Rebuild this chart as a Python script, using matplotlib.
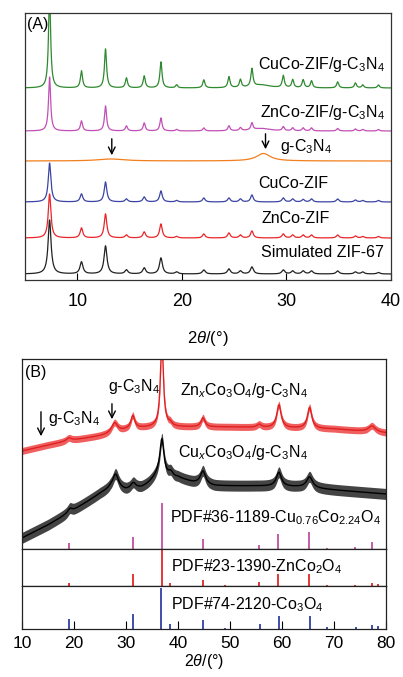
import numpy as np
import matplotlib
matplotlib.use("Agg")
import matplotlib.pyplot as plt

plt.rcParams['font.family'] = ['Liberation Sans', 'DejaVu Sans']
plt.rcParams['mathtext.fontset'] = 'custom'
plt.rcParams['mathtext.rm'] = 'Liberation Sans'
plt.rcParams['mathtext.it'] = 'Liberation Sans:italic'
plt.rcParams['mathtext.bf'] = 'Liberation Sans:bold'

# ---------------- Panel A data (ZIF patterns) ----------------
zif_pos = [7.35, 10.4, 12.7, 14.7, 16.4, 18.0, 19.5, 22.1, 24.5, 25.6, 26.7,
           29.7, 30.6, 31.6, 32.4, 34.9, 36.6, 37.3, 38.8]
sim_h   = [54, 12, 28, 4, 6, 16, 2, 4, 5, 3, 7, 4, 3, 3, 3, 3, 2, 2, 1.5]
znco_h  = [44, 10, 24, 3, 6, 14, 1.5, 4, 5, 3, 7, 4, 3, 3, 3, 3, 2, 1.5, 1.5]
cuco_h  = [39, 8, 20, 3, 5, 11, 1.5, 4, 4, 3, 7, 4, 3, 2.5, 3, 3, 2, 1.5, 1.5]
znco_g_h = [54, 10, 25, 5, 8, 13, 1.5, 3, 5, 3, 7, 4, 3, 3, 3, 2.5, 2, 1.5, 1.5]
cuco_g_h = [95, 17, 39, 10, 12, 26, 3, 8, 11, 8, 18, 12, 8, 8, 7, 6, 5, 3, 3]
gcn_pos = [13.2, 27.8]
gcn_h   = [2, 7.5]
gcn_w   = [1.5, 0.8]

a_offsets = {'sim': 6, 'znco': 42, 'cuco': 78, 'gcn': 119, 'znco_g': 149, 'cuco_g': 192}

# ---------------- Panel B data ----------------
# red: ZnxCo3O4/g-C3N4
zn_base_x = [10, 15, 20, 25, 27, 30, 33, 36, 40, 50, 60, 70, 80]
zn_base_y = [98, 104, 109, 113, 115, 119, 121, 122, 122, 122, 121, 120, 116]
zn_pk_pos = [19.0, 27.8, 31.3, 36.9, 38.5, 44.8, 55.6, 59.4, 65.3, 77.3]
zn_pk_h   = [3, 10, 13, 85, 3, 9, 3, 23, 21, 6]
zn_pk_w   = [0.6, 0.7, 0.45, 0.35, 0.4, 0.45, 0.5, 0.5, 0.5, 0.8]
# black: CuxCo3O4/g-C3N4
cu_base_x = [10, 15, 20, 25, 27, 30, 33, 35, 40, 43, 47, 55, 63, 70, 75, 80]
cu_base_y = [11, 24, 39, 55, 60, 58, 60, 64, 70, 66, 63, 63, 62, 59, 57, 55]
cu_pk_pos = [19.2, 28.0, 31.4, 36.5, 36.9, 38.6, 44.8, 59.4, 65.3]
cu_pk_h   = [4, 15, 6, 10, 34, 5, 13, 14, 11]
cu_pk_w   = [0.5, 0.7, 0.6, 1.5, 0.45, 0.5, 0.6, 0.6, 0.7]

# reference sticks
cu_ref_pos = [19.0, 31.3, 36.9, 44.8, 55.6, 59.3, 65.2, 68.7, 74.1, 77.4]
cu_ref_h   = [6, 12, 46, 10, 4, 15, 17, 1, 2, 7]
zn_ref_pos = [19.0, 31.3, 36.9, 38.5, 44.8, 49.1, 55.6, 59.3, 65.2, 68.7, 74.1, 77.4, 78.5]
zn_ref_h   = [3, 12, 36, 3, 6, 1, 4, 12, 12, 1, 1, 3, 2]
co_ref_pos = [19.0, 31.3, 36.8, 38.5, 44.8, 49.1, 55.7, 59.4, 65.3, 68.7, 74.2, 77.4, 78.5]
co_ref_h   = [10, 15, 41, 5, 9, 1, 5, 13, 13, 2, 2, 4, 3]


def lor(x, pos, h, w):
    y = np.zeros_like(x)
    if np.isscalar(w):
        w = [w] * len(pos)
    for p, hh, ww in zip(pos, h, w):
        y += hh / (1 + ((x - p) / ww) ** 2)
    return y


W = 403 / 100
H = 677 / 100
fig = plt.figure(figsize=(W, H), dpi=100)

def fx(px):
    return px / 403

def fy(py):
    return 1 - py / 677

fs = 11.5

# ---------------- Panel A ----------------
axA = fig.add_axes([fx(25), fy(280), fx(391) - fx(25), fy(13) - fy(280)])
xa = np.linspace(5, 40, 4000)
cols = {'sim': '#222222', 'znco': '#e8262a', 'cuco': '#3b44a3',
        'gcn': '#f27e1c', 'znco_g': '#c24fb5', 'cuco_g': '#2f8a2f'}
axA.plot(xa, a_offsets['sim'] + lor(xa, zif_pos, sim_h, 0.17), color=cols['sim'], lw=0.9)
axA.plot(xa, a_offsets['znco'] + lor(xa, zif_pos, znco_h, 0.15), color=cols['znco'], lw=0.9)
axA.plot(xa, a_offsets['cuco'] + lor(xa, zif_pos, cuco_h, 0.15), color=cols['cuco'], lw=0.9)
axA.plot(xa, a_offsets['gcn'] + lor(xa, gcn_pos, gcn_h, gcn_w), color=cols['gcn'], lw=0.9)
axA.plot(xa, a_offsets['znco_g'] + lor(xa, zif_pos, znco_g_h, 0.12) + lor(xa, [27.6], [2.5], [1.0]),
         color=cols['znco_g'], lw=0.9)
axA.plot(xa, a_offsets['cuco_g'] + lor(xa, zif_pos, cuco_g_h, 0.12) + lor(xa, [27.6], [3.0], [1.0]),
         color=cols['cuco_g'], lw=0.9)
axA.set_xlim(5, 40)
axA.set_ylim(0, 267)
axA.set_yticks([])
axA.set_xticks([10, 20, 30, 40])
axA.tick_params(axis='x', direction='in', length=5, width=0.8, labelsize=13, pad=9)
for s in axA.spines.values():
    s.set_linewidth(0.9)
    s.set_color('#333333')
axA.set_xlabel(r'2$\it{\theta}$/(°)', fontsize=12, labelpad=14)

axA.text(5.2, 255, '(A)', fontsize=fs, ha='left', va='center')
axA.text(39.4, 216, r'CuCo-ZIF/g-C$_3$N$_4$', fontsize=fs, ha='right', va='center')
axA.text(39.4, 167, r'ZnCo-ZIF/g-C$_3$N$_4$', fontsize=fs, ha='right', va='center')
axA.text(29.4, 133, r'g-C$_3$N$_4$', fontsize=fs, ha='left', va='center')
axA.text(27.3, 96, 'CuCo-ZIF', fontsize=fs, ha='left', va='center')
axA.text(27.6, 62, 'ZnCo-ZIF', fontsize=fs, ha='left', va='center')
axA.text(39.3, 28, 'Simulated ZIF-67', fontsize=fs, ha='right', va='center')
arr = dict(arrowstyle='->', color='black', lw=1.0, mutation_scale=12)
axA.annotate('', xy=(13.3, 122), xytext=(13.3, 144), arrowprops=arr)
axA.annotate('', xy=(28.0, 128), xytext=(28.0, 149), arrowprops=arr)

# ---------------- Panel B ----------------
left, right = fx(22), fx(386)
axB1 = fig.add_axes([left, fy(549), right - left, fy(359) - fy(549)])
axB2 = fig.add_axes([left, fy(586), right - left, fy(549) - fy(586)])
axB3 = fig.add_axes([left, fy(629), right - left, fy(586) - fy(629)])

xb = np.linspace(10, 80, 4000)
zn_y = np.interp(xb, zn_base_x, zn_base_y) + lor(xb, zn_pk_pos, zn_pk_h, zn_pk_w)
cu_y = np.interp(xb, cu_base_x, cu_base_y) + lor(xb, cu_pk_pos, cu_pk_h, cu_pk_w)
axB1.fill_between(xb, cu_y - 5.5, cu_y + 5.5, color='#151515', alpha=0.8, lw=0)
axB1.plot(xb, cu_y, color='#000000', lw=1.0)
axB1.fill_between(xb, zn_y - 3.5, zn_y + 3.5, color='#ec2a2a', alpha=0.75, lw=0)
axB1.plot(xb, zn_y, color='#e02020', lw=1.0)

axB1.vlines(cu_ref_pos, 0, cu_ref_h, color='#c04f9f', lw=1.3)
axB2.vlines(zn_ref_pos, 0, zn_ref_h, color='#e02828', lw=1.3)
axB3.vlines(co_ref_pos, 0, co_ref_h, color='#3040a0', lw=1.3)

for ax, top in ((axB1, 190), (axB2, 37), (axB3, 43)):
    ax.set_xlim(10, 80)
    ax.set_ylim(0, top)
    ax.set_yticks([])
    for s in ax.spines.values():
        s.set_linewidth(0.9)
        s.set_color('#222222')
for ax in (axB1, axB2):
    ax.set_xticks([])
axB3.set_xticks([10, 20, 30, 40, 50, 60, 70, 80])
axB3.tick_params(axis='x', direction='in', length=6, width=0.8, labelsize=12.5, pad=5)
axB3.set_xlabel(r'2$\it{\theta}$/(°)', fontsize=11.5, labelpad=1)

axB1.text(10.6, 177, '(B)', fontsize=fs, ha='left', va='center')
axB1.text(40.4, 159, r'Zn$_{\it{x}}$Co$_3$O$_4$/g-C$_3$N$_4$', fontsize=fs, ha='left', va='center')
axB1.text(26.5, 162, r'g-C$_3$N$_4$', fontsize=fs, ha='left', va='center')
axB1.text(15.0, 130, r'g-C$_3$N$_4$', fontsize=fs, ha='left', va='center')
axB1.text(40.0, 96, r'Cu$_{\it{x}}$Co$_3$O$_4$/g-C$_3$N$_4$', fontsize=fs, ha='left', va='center')
axB1.text(38.5, 31, r'PDF#36-1189-Cu$_{0.76}$Co$_{2.24}$O$_4$', fontsize=fs, ha='left', va='center')
axB2.text(38.65, 19, r'PDF#23-1390-ZnCo$_2$O$_4$', fontsize=fs, ha='left', va='center')
axB3.text(38.65, 24, r'PDF#74-2120-Co$_3$O$_4$', fontsize=fs, ha='left', va='center')
axB1.annotate('', xy=(27.3, 127), xytext=(27.3, 148), arrowprops=arr)
axB1.annotate('', xy=(13.65, 110), xytext=(13.65, 140), arrowprops=arr)

fig.savefig('out.png', dpi=100)
